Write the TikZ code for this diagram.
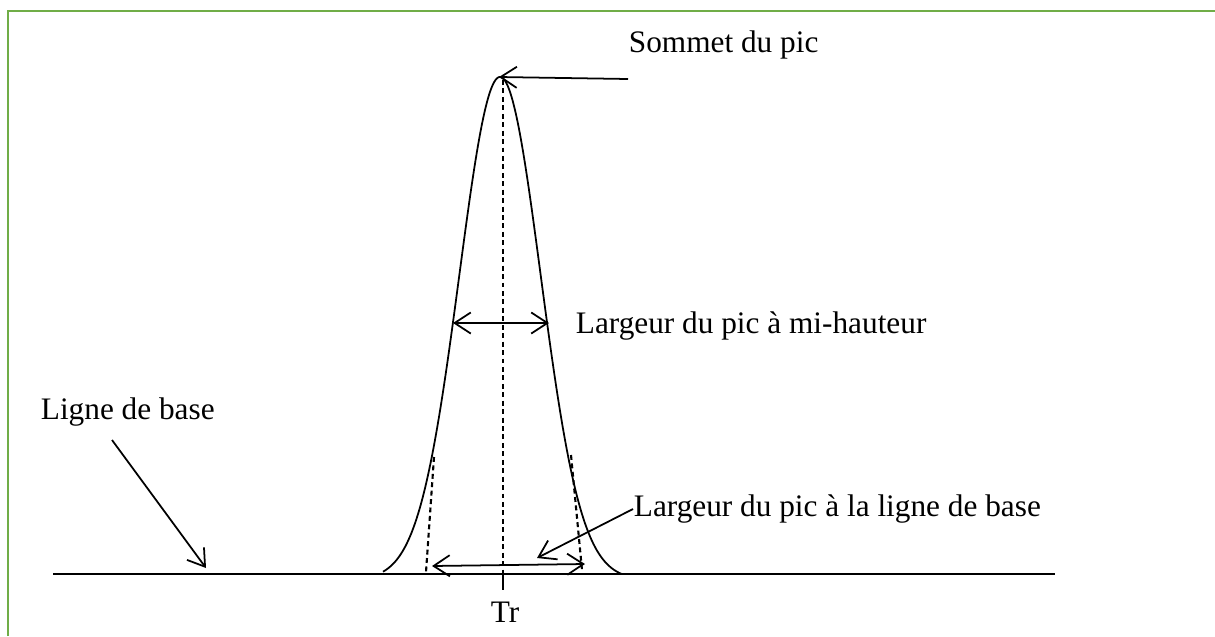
\documentclass[tikz,border=0pt]{standalone}
\usepackage{fontspec}
\setmainfont{Liberation Serif}
\usetikzlibrary{arrows.meta}
\definecolor{framegreen}{RGB}{112,173,71}
\begin{document}
\begin{tikzpicture}[x=0.01cm,y=-0.01cm,
  line width=0.5pt,
  lbl/.style={font=\fontsize{8.9}{10}\selectfont, inner sep=0pt, anchor=west},
  barb/.style={-{Straight Barb[length=4.6pt,width=6pt]}},
  dbarb/.style={{Straight Barb[length=4.6pt,width=6pt]}-{Straight Barb[length=4.6pt,width=6pt]}},
  dsh/.style={dash pattern=on 1.4pt off 1pt, line width=0.6pt}]
\useasboundingbox (0,0) rectangle (1215,636);
% frame
\draw[framegreen, line width=0.85pt] (8,636) -- (8,11) -- (1215,11);
% baseline
\coordinate (b0) at (53,574);
\coordinate (b1) at (1055,574);
\draw (b0) -- (b1);
% peak
\draw plot[domain=383:622, samples=160, smooth] (\x, {574 - 497*(exp(-((\x-500)*(\x-500))/3300) - 0.0111)/(1-0.0111)});
% centre dashed line and Tr tick
\coordinate (apex) at (499,77);
\coordinate (cb) at (503,574);
\coordinate (ct) at (503,590);
\draw[dsh] (503,80) -- (cb);
\draw (cb) -- (ct);
\node[font=\fontsize{8.9}{10}\selectfont, inner sep=0pt] (tr) at (505,612) {Tr};
% tangents
\coordinate (tl0) at (434,457);
\coordinate (tl1) at (426,572);
\coordinate (tr0) at (571,455);
\coordinate (tr1) at (582,570);
\draw[dsh] (tl0) -- (tl1);
\draw[dsh] (tr0) -- (tr1);
% sommet
\node[lbl] (som) at (628,45) {Sommet du pic};
\coordinate (somst) at (628,79);
\draw[barb] (somst) -- (apex);
% mid-height width
\coordinate (ml) at (453,323);
\coordinate (mr) at (549,323);
\draw[dbarb] (ml) -- (mr);
\node[lbl] (mid) at (575,326) {Largeur du pic à mi-hauteur};
% base width
\coordinate (wl) at (432,566);
\coordinate (wr) at (585,564);
\draw[dbarb] (wl) -- (wr);
\node[lbl] (bw) at (633,509) {Largeur du pic à la ligne de base};
\coordinate (bwt) at (537,558);
\draw[barb] (bw.west) -- (bwt);
% ligne de base
\node[lbl] (lb) at (40,412) {Ligne de base};
\coordinate (lbs) at (112,440);
\coordinate (lbt) at (206,568);
\draw[barb] (lbs) -- (lbt);
\end{tikzpicture}
\end{document}
